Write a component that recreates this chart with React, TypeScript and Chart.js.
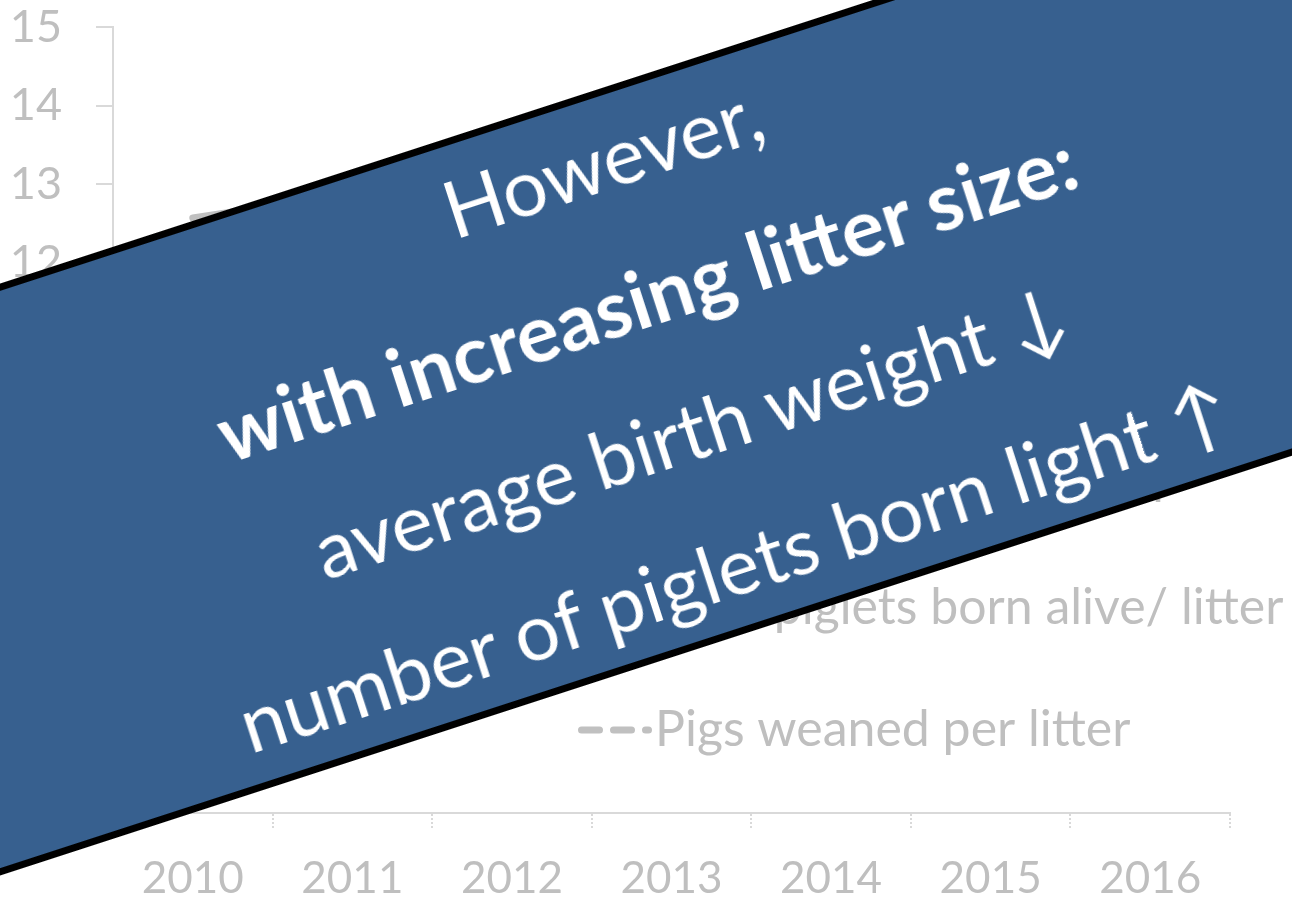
import React, { useEffect, useRef } from "react";
import { Chart, registerables } from "chart.js";

Chart.register(...registerables);

// Years on the category axis
const years = ["2010", "2011", "2012", "2013", "2014", "2015", "2016"];

// Litter performance per year
const totalBorn = [12.57, 12.88, 13.3, 13.6, 14.0, 14.3, 14.6];
const bornAlive = [11.6, 11.9, 12.3, 12.6, 13.0, 13.3, 13.5];
const weaned = [10.8, 11.1, 11.4, 11.6, 12.0, 12.3, 12.6];

const seriesNames = [
  "Total piglets born/ litter",
  "Total piglets born alive/ litter",
  "Pigs weaned per litter",
];

// Value axis range
const yMin = 5;
const yMax = 15;
const yStep = 1;

// Message printed across the chart
const bannerLines = [
  { text: "However,", bold: false },
  { text: "with increasing litter size:", bold: true },
  { text: "average birth weight \u2193", bold: false },
  { text: "number of piglets born light \u2191", bold: false },
];

const GREY_TEXT = "#bfbfbf";
const GREY_LINE = "#c0c0c0";
const AXIS = "#d9d9d9";
const FONT = "Lato, 'Open Sans', sans-serif";

// Draws the legend entries inside the plot area, stacked vertically
const insideLegend = {
  id: "insideLegend",
  afterDatasetsDraw(chart: any) {
    const { ctx, chartArea } = chart;
    const x0 = chartArea.left + 465;
    chart.data.datasets.forEach((ds: any, i: number) => {
      const y = chartArea.top + 459 + i * 122;
      ctx.save();
      ctx.strokeStyle = ds.borderColor;
      ctx.lineWidth = 7;
      ctx.lineCap = "round";
      ctx.setLineDash(ds.borderDash || []);
      ctx.beginPath();
      ctx.moveTo(x0 + 3.5, y);
      ctx.lineTo(x0 + 70.5, y);
      ctx.stroke();
      ctx.setLineDash([]);
      ctx.fillStyle = GREY_TEXT;
      ctx.font = `50px ${FONT}`;
      ctx.textBaseline = "middle";
      ctx.textAlign = "left";
      ctx.fillText(ds.label, x0 + 77, y);
      ctx.restore();
    });
  },
};

export default function App() {
  const canvasRef = useRef<HTMLCanvasElement | null>(null);

  useEffect(() => {
    if (!canvasRef.current) return;
    const lineStyle = {
      borderColor: GREY_LINE,
      borderWidth: 7,
      borderCapStyle: "round" as const,
      borderJoinStyle: "round" as const,
      pointRadius: 0,
      fill: false,
      tension: 0,
    };
    const chart = new Chart(canvasRef.current, {
      type: "line",
      data: {
        labels: years,
        datasets: [
          { label: seriesNames[0], data: totalBorn, ...lineStyle },
          { label: seriesNames[1], data: bornAlive, ...lineStyle },
          { label: seriesNames[2], data: weaned, ...lineStyle, borderDash: [18, 14] },
        ],
      },
      options: {
        animation: false,
        responsive: true,
        maintainAspectRatio: false,
        layout: { padding: { top: 27, right: 62, bottom: 0, left: 0 } },
        plugins: {
          legend: { display: false },
          tooltip: { enabled: false },
        },
        scales: {
          x: {
            offset: true,
            grid: {
              offset: true,
              drawOnChartArea: false,
              drawTicks: true,
              tickLength: 15,
              color: AXIS,
              lineWidth: 2,
              tickBorderDash: [2, 2],
            },
            border: { color: AXIS, width: 2, dash: [2, 2] },
            ticks: {
              color: GREY_TEXT,
              font: { family: FONT, size: 44 },
              padding: 24,
              maxRotation: 0,
              autoSkip: false,
            },
            afterFit: (scale: any) => {
              scale.height = 91;
              scale.paddingLeft = 0;
              scale.paddingRight = 0;
            },
          },
          y: {
            min: yMin,
            max: yMax,
            grid: {
              drawOnChartArea: false,
              drawTicks: true,
              tickLength: 17,
              color: AXIS,
              lineWidth: 2,
            },
            border: { color: AXIS, width: 2 },
            ticks: {
              stepSize: yStep,
              color: GREY_TEXT,
              font: { family: FONT, size: 45 },
              padding: 34,
            },
            afterFit: (scale: any) => {
              scale.width = 113;
              scale.paddingTop = 0;
              scale.paddingBottom = 0;
            },
          },
        },
      },
      plugins: [insideLegend],
    });
    return () => chart.destroy();
  }, []);

  return (
    <div
      style={{
        position: "fixed",
        left: 0,
        top: 0,
        width: 1292,
        height: 904,
        overflow: "hidden",
        background: "#ffffff",
      }}
    >
      <div style={{ position: "absolute", left: 0, top: 0, width: 1292, height: 904 }}>
        <canvas ref={canvasRef} />
      </div>
      <div
        style={{
          position: "absolute",
          left: 668 - 1100,
          top: 362 - 281.5,
          width: 2200,
          height: 563,
          boxSizing: "border-box",
          border: "7px solid #000000",
          background: "#37608f",
          transform: "rotate(-18deg)",
          transformOrigin: "50% 50%",
          display: "flex",
          flexDirection: "column",
          justifyContent: "center",
          alignItems: "center",
          color: "#ffffff",
          fontFamily: FONT,
          fontSize: 79,
          lineHeight: "142px",
          whiteSpace: "nowrap",
        }}
      >
        {bannerLines.map((line) => (
          <div
            key={line.text}
            style={{ fontWeight: line.bold ? 700 : 400, fontSize: line.bold ? 80 : 79 }}
          >
            {line.text}
          </div>
        ))}
      </div>
    </div>
  );
}
